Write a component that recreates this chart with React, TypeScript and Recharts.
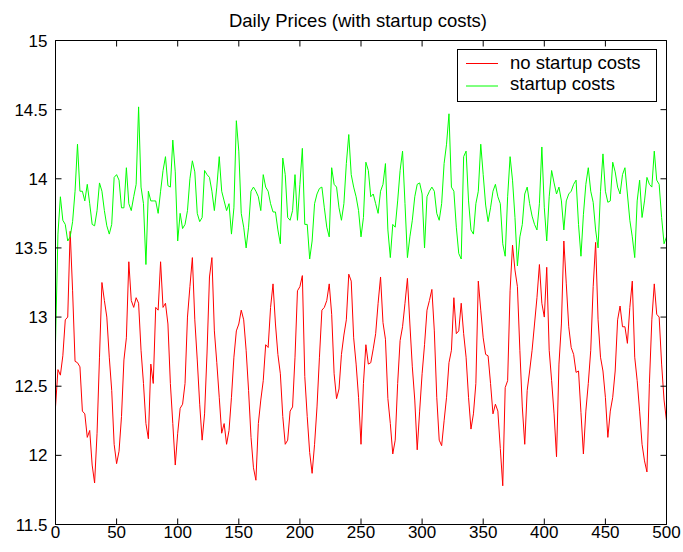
import { Legend, Line, LineChart, XAxis, YAxis } from 'recharts';

// Axis ticks as printed on the figure.
const X_TICKS = [0, 50, 100, 150, 200, 250, 300, 350, 400, 450, 500];
const Y_TICKS = [11.5, 12, 12.5, 13, 13.5, 14, 14.5, 15];

// One reading every DAY_STEP days (day 0 .. 500).
const DAY_STEP = 2;

const NO_STARTUP = [
    12.35, 12.62, 12.58, 12.72, 12.98, 13.0, 13.62, 13.19, 12.68, 12.67,
    12.64, 12.32, 12.3, 12.13, 12.18, 11.93, 11.8, 12.16, 12.71, 13.25,
    13.12, 13.0, 12.71, 12.47, 12.08, 11.94, 12.03, 12.28, 12.69, 12.85,
    13.4, 13.12, 13.07, 13.14, 13.1, 12.76, 12.52, 12.23, 12.12, 12.66,
    12.52, 13.07, 13.05, 13.4, 13.07, 13.1, 12.95, 12.52, 12.23, 11.93,
    12.16, 12.34, 12.37, 12.52, 13.0, 13.22, 13.43, 12.98, 12.69, 12.37,
    12.11, 12.3, 12.74, 13.29, 13.43, 12.9, 12.67, 12.42, 12.16, 12.23,
    12.08, 12.18, 12.42, 12.71, 12.9, 12.95, 13.05, 12.98, 12.76, 12.47,
    12.13, 11.91, 11.82, 12.23, 12.4, 12.54, 12.8, 12.78, 13.07, 13.24,
    12.95, 12.73, 12.59, 12.28, 12.08, 12.11, 12.32, 12.35, 12.71, 13.19,
    13.22, 13.3, 12.57, 12.28, 12.02, 11.87, 12.08, 12.35, 12.71, 13.05,
    13.07, 13.12, 13.24, 13.02, 12.59, 12.41, 12.48, 12.73, 12.87, 12.98,
    13.31, 13.26, 12.85, 12.66, 12.42, 12.08, 12.52, 12.8, 12.66, 12.67,
    12.77, 12.88, 13.1, 13.29, 12.96, 12.84, 12.41, 12.23, 12.01, 12.11,
    12.52, 12.83, 12.93, 13.1, 13.28, 12.95, 12.64, 12.4, 12.04, 12.32,
    12.59, 12.8, 13.05, 13.12, 13.2, 12.9, 12.42, 12.11, 12.07, 12.25,
    12.42, 12.67, 12.76, 13.14, 12.88, 12.9, 13.1, 12.88, 12.71, 12.42,
    12.19, 12.3, 12.52, 13.26, 13.05, 12.85, 12.73, 12.72, 12.52, 12.3,
    12.37, 12.32, 12.05, 11.78, 12.49, 12.54, 13.19, 13.52, 13.34, 13.22,
    12.76, 12.35, 12.08, 12.47, 12.61, 12.76, 12.95, 13.14, 13.38, 13.1,
    13.0, 13.36, 12.76, 12.54, 12.3, 11.99, 12.66, 12.95, 13.55, 13.24,
    12.93, 12.78, 12.73, 12.6, 12.61, 12.31, 12.01, 12.32, 12.52, 12.76,
    13.22, 13.54, 12.98, 12.71, 12.61, 12.42, 12.13, 12.32, 12.42, 12.61,
    12.98, 13.08, 12.93, 12.93, 12.81, 13.07, 13.26, 12.71, 12.54, 12.32,
    12.08, 11.96, 11.88, 12.52, 12.98, 13.24, 13.02, 13.0, 12.66, 12.4,
    12.25,
];

const STARTUP = [
    12.81, 13.6, 13.87, 13.7, 13.67, 13.55, 13.58, 13.69, 13.91, 14.25,
    13.91, 13.91, 13.84, 13.96, 13.82, 13.67, 13.66, 13.77, 13.97, 13.91,
    13.77, 13.66, 13.6, 13.67, 14.01, 14.03, 13.99, 13.79, 13.79, 14.08,
    13.82, 13.77, 13.87, 13.96, 14.52, 13.94, 13.82, 13.38, 13.91, 13.84,
    13.84, 13.84, 13.75, 13.91, 14.06, 14.16, 13.95, 13.94, 14.28, 14.05,
    13.55, 13.75, 13.64, 13.67, 13.77, 14.0, 14.13, 14.05, 13.75, 13.69,
    13.72, 14.06, 14.03, 14.01, 13.91, 13.77, 13.94, 14.16, 13.91, 13.84,
    13.77, 13.82, 13.6, 13.79, 14.42, 14.2, 13.75, 13.65, 13.5, 13.65,
    13.91, 13.94, 13.91, 13.87, 13.77, 14.03, 13.94, 13.91, 13.82, 13.76,
    13.76, 13.63, 13.53, 14.15, 14.03, 13.72, 13.7, 13.77, 14.03, 13.7,
    13.96, 14.22, 13.67, 13.67, 13.42, 13.55, 13.82, 13.89, 13.93, 13.94,
    13.79, 13.65, 13.58, 14.08, 13.96, 13.94, 13.79, 13.7, 13.82, 14.11,
    14.32, 14.03, 13.94, 13.87, 13.77, 13.58, 13.72, 14.12, 14.06, 13.87,
    13.89, 13.82, 13.75, 13.91, 13.96, 14.11, 13.63, 13.43, 13.67, 13.65,
    13.84, 14.06, 14.2, 13.82, 13.43, 13.58, 13.7, 13.87, 13.96, 13.97,
    13.89, 13.5, 13.87, 13.91, 13.94, 13.91, 13.75, 13.7, 13.82, 14.11,
    14.25, 14.47, 13.94, 13.91, 13.65, 13.46, 13.42, 14.16, 14.2, 13.84,
    13.63, 13.6, 13.82, 13.91, 14.25, 14.03, 13.81, 13.69, 13.79, 13.91,
    13.96, 13.87, 13.82, 13.53, 13.44, 13.87, 14.16, 13.99, 13.72, 13.37,
    13.58, 13.67, 13.89, 13.94, 13.82, 13.73, 13.67, 13.63, 13.82, 14.23,
    13.79, 13.55, 13.87, 14.06, 13.97, 13.89, 13.94, 13.84, 13.63, 13.84,
    13.89, 13.91, 13.96, 13.99, 13.67, 13.44, 13.74, 13.96, 14.08, 13.91,
    13.83, 13.63, 13.5, 13.91, 14.18, 13.91, 13.83, 13.84, 14.12, 14.05,
    13.94, 13.89, 14.03, 14.08, 13.89, 13.7, 13.58, 13.43, 13.84, 13.99,
    13.72, 13.84, 14.01, 13.96, 13.94, 14.2, 13.99, 13.96, 13.72, 13.53,
    13.58,
];

const data = NO_STARTUP.map((v, i) => ({ day: i * DAY_STEP, noStartup: v, startup: STARTUP[i] }));

const FONT = '"Liberation Sans", Arial, Helvetica, sans-serif';
const TICK_LEN = 6;
const RED = '#ff0000';
const GREEN = '#00ff00';

// MATLAB-style ticks: short marks pointing into the box, labels outside.
function BottomTick({ x, y, payload }: any) {
    return (
        <g>
            <line x1={x} x2={x} y1={y} y2={y - TICK_LEN} stroke="#000" />
            <text x={x} y={y + 13} textAnchor="middle" fontSize={17} fontFamily={FONT} fill="#000">
                {payload.value}
            </text>
        </g>
    );
}

function LeftTick({ x, y, payload }: any) {
    return (
        <g>
            <line x1={x} x2={x + TICK_LEN} y1={y} y2={y} stroke="#000" />
            <text x={x - 8} y={y + 6} textAnchor="end" fontSize={17} fontFamily={FONT} fill="#000">
                {payload.value}
            </text>
        </g>
    );
}

function TopTick({ x, y }: any) {
    return <line x1={x} x2={x} y1={y} y2={y + TICK_LEN} stroke="#000" />;
}

function RightTick({ x, y }: any) {
    return <line x1={x} x2={x - TICK_LEN} y1={y} y2={y} stroke="#000" />;
}

function LegendBox({ payload }: any) {
    const items = payload ?? [];
    return (
        <svg width={200} height={53} style={{ display: 'block' }}>
            <rect x={0.5} y={0.5} width={199} height={52} fill="#fff" stroke="#000" />
            {items.map((item: any, i: number) => (
                <g key={item.value}>
                    <line x1={9} x2={41} y1={14.5 + i * 22.5} y2={14.5 + i * 22.5} stroke={item.color} />
                    <text x={53} y={20 + i * 21} fontSize={18.5} fontFamily={FONT} fill="#000">
                        {item.value}
                    </text>
                </g>
            ))}
        </svg>
    );
}

export default function App() {
    return (
        <div style={{ position: 'absolute', left: 0, top: 0, width: 683, height: 552, background: '#fff' }}>
            <LineChart
                width={683}
                height={552}
                data={data}
                margin={{ top: 39.5, right: 15.5, bottom: 0, left: 0.5 }}
            >
                <XAxis
                    dataKey="day"
                    type="number"
                    domain={[0, 500]}
                    ticks={X_TICKS}
                    height={27.5}
                    tickSize={0}
                    tickMargin={0}
                    tickLine={false}
                    axisLine={{ stroke: '#000' }}
                    tick={<BottomTick />}
                    interval={0}
                />
                {/* top and right axes only close the box and carry inward ticks */}
                <XAxis
                    xAxisId="top"
                    dataKey="day"
                    type="number"
                    orientation="top"
                    domain={[0, 500]}
                    ticks={X_TICKS}
                    height={1}
                    tickSize={0}
                    tickMargin={0}
                    tickLine={false}
                    axisLine={{ stroke: '#000' }}
                    tick={<TopTick />}
                    interval={0}
                />
                <YAxis
                    type="number"
                    domain={[11.5, 15]}
                    ticks={Y_TICKS}
                    width={55}
                    tickSize={0}
                    tickMargin={0}
                    tickLine={false}
                    axisLine={{ stroke: '#000' }}
                    tick={<LeftTick />}
                    interval={0}
                    allowDataOverflow
                />
                <YAxis
                    yAxisId="right"
                    orientation="right"
                    type="number"
                    domain={[11.5, 15]}
                    ticks={Y_TICKS}
                    width={1}
                    tickSize={0}
                    tickMargin={0}
                    tickLine={false}
                    axisLine={{ stroke: '#000' }}
                    tick={<RightTick />}
                    interval={0}
                    allowDataOverflow
                />
                <Legend
                    layout="vertical"
                    align="center"
                    verticalAlign="middle"
                    content={<LegendBox />}
                    wrapperStyle={{ left: 457, top: 49, width: 200, height: 53 }}
                />
                <Line
                    type="linear" dataKey="noStartup" name="no startup costs"
                    stroke={RED} strokeWidth={1} dot={false} activeDot={false}
                    isAnimationActive={false}
                />
                <Line
                    type="linear" dataKey="startup" name="startup costs"
                    xAxisId="top" yAxisId="right"
                    stroke={GREEN} strokeWidth={1} dot={false} activeDot={false}
                    isAnimationActive={false}
                />
            </LineChart>
            <svg
                width={683}
                height={36}
                style={{ position: 'absolute', left: 0, top: 0, pointerEvents: 'none' }}
            >
                <text x={358} y={26.7} textAnchor="middle" fontSize={18.5} fontFamily={FONT} fill="#000">
                    Daily Prices (with startup costs)
                </text>
            </svg>
        </div>
    );
}
